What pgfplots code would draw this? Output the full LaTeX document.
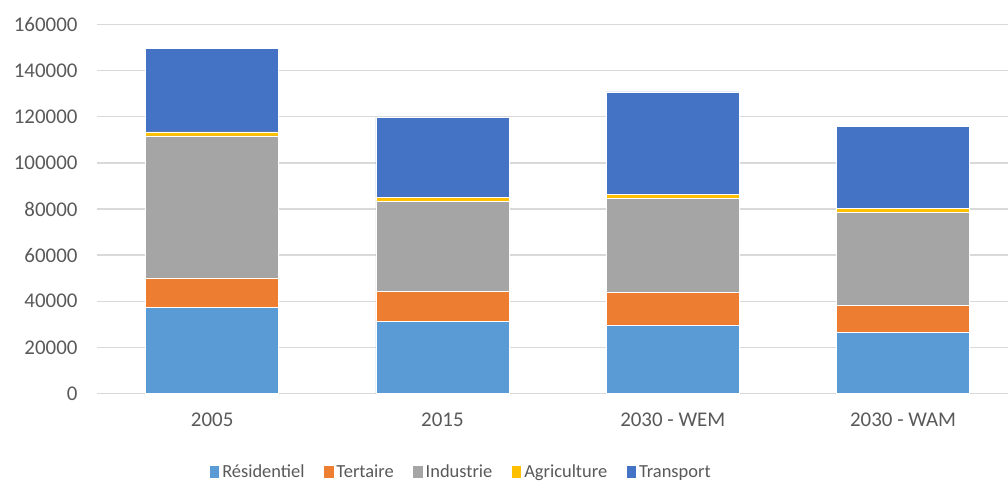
\documentclass[border=0pt]{standalone}
\usepackage{fontspec}
\setmainfont{Carlito}
\usepackage{pgfplots}
\pgfplotsset{compat=1.18}
\definecolor{cRes}{HTML}{5B9BD5}
\definecolor{cTer}{HTML}{ED7D31}
\definecolor{cInd}{HTML}{A5A5A5}
\definecolor{cAgr}{HTML}{FFC000}
\definecolor{cTra}{HTML}{4472C4}
\definecolor{cGrid}{HTML}{D9D9D9}
\definecolor{cTxt}{HTML}{595959}
\begin{document}
\begin{tikzpicture}
\path[use as bounding box] (-97bp,-87.5bp) rectangle (911bp,393.5bp);
\begin{axis}[
  at={(0,0)}, anchor=south west,
  scale only axis, width=911bp, height=369bp,
  ybar stacked, bar width=0.5775,
  xmin=-0.5, xmax=3.4557, ymin=0, ymax=160000,
  xtick=data, xticklabels={2005,2015,2030 - WEM,2030 - WAM},
  ytick={0,20000,...,160000},
  scaled y ticks=false,
  /pgf/number format/fixed, /pgf/number format/1000 sep={},
  /pgf/number format/assume math mode=true,
  axis line style={draw=none}, major tick length=0pt,
  ymajorgrids, grid style={cGrid, line width=1.3bp},
  tick label style={font=\fontsize{21}{25}\selectfont, text=cTxt},
  yticklabel style={xshift=-16bp},
  xticklabel style={yshift=-16bp},
  legend columns=5,
  legend style={at={(0.3996,-0.2125)}, anchor=center, draw=none,
    font=\fontsize{18.5}{22}\selectfont, text=cTxt,
    /tikz/every even column/.append style={column sep=16bp},
    nodes={inner sep=2.5bp}},
  legend image code/.code={\fill[#1] (0bp,-6.5bp) rectangle (10.5bp,6.5bp);},
  every axis plot/.append style={draw=white, line width=0.4bp},
]
\addplot[fill=cRes] coordinates {(0,37500) (1,31200) (2,29700) (3,26400)};
\addplot[fill=cTer] coordinates {(0,12600) (1,13200) (2,14100) (3,11900)};
\addplot[fill=cInd] coordinates {(0,61600) (1,39000) (2,40900) (3,40200)};
\addplot[fill=cAgr] coordinates {(0,1700) (1,1600) (2,1700) (3,1700)};
\addplot[fill=cTra] coordinates {(0,36300) (1,34800) (2,44400) (3,35500)};
\legend{Résidentiel, Tertaire, Industrie, Agriculture, Transport}
\end{axis}
\end{tikzpicture}
\end{document}
